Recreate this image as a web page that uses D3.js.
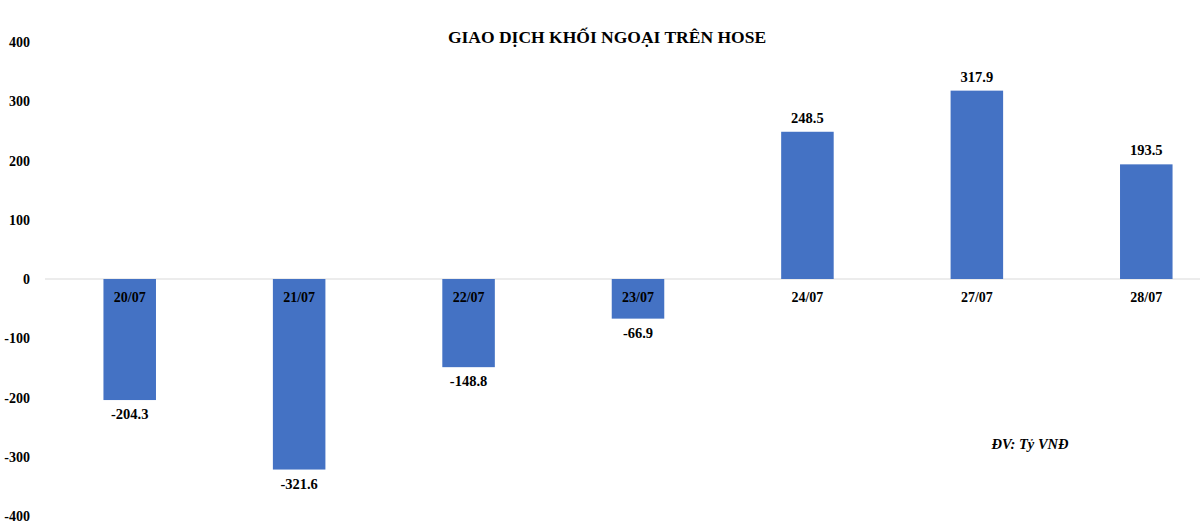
<!DOCTYPE html>
<html><head><meta charset="utf-8">
<script src="https://cdn.jsdelivr.net/npm/d3@7"></script>
<style>body{margin:0;background:#fff}text{font-family:"Liberation Serif","Times New Roman",serif;font-weight:bold}</style>
</head><body><svg id="c" width="1200" height="528"></svg>
<script>
const categories = ["20/07","21/07","22/07","23/07","24/07","27/07","28/07"];
const values = [-204.3,-321.6,-148.8,-66.9,248.5,317.9,193.5];
const yTicks = [400,300,200,100,0,-100,-200,-300,-400];

const svg = d3.select("#c");
const x = d3.scaleBand().domain(categories).range([45, 1231]).paddingInner(0.69).paddingOuter(0.345);
const y = d3.scaleLinear().domain([-400, 400]).range([516, 42]);

svg.append("line").attr("x1", 45).attr("x2", 1200).attr("y1", y(0)).attr("y2", y(0))
  .attr("stroke", "#d9d9d9").attr("stroke-width", 1);

svg.selectAll(".yt").data(yTicks).enter().append("text")
  .attr("x", 30).attr("y", d => y(d) + 5).attr("text-anchor", "end")
  .attr("font-size", 14).text(d => d);

svg.selectAll(".bar").data(values).enter().append("rect")
  .attr("x", (d, i) => x(categories[i])).attr("width", x.bandwidth())
  .attr("y", d => y(Math.max(0, d))).attr("height", d => Math.abs(y(d) - y(0)))
  .attr("fill", "#4472c4");

svg.selectAll(".cat").data(categories).enter().append("text")
  .attr("x", d => x(d) + x.bandwidth() / 2).attr("y", y(0) + 23)
  .attr("text-anchor", "middle").attr("font-size", 14).text(d => d);

svg.selectAll(".val").data(values).enter().append("text")
  .attr("x", (d, i) => x(categories[i]) + x.bandwidth() / 2)
  .attr("y", d => d < 0 ? y(d) + 19 : y(d) - 9)
  .attr("text-anchor", "middle").attr("font-size", 14.5).text(d => d.toFixed(1));

svg.append("text").attr("x", 607).attr("y", 43).attr("text-anchor", "middle")
  .attr("font-size", 17.5).text("GIAO DỊCH KHỐI NGOẠI TRÊN HOSE");

svg.append("text").attr("x", 1030).attr("y", 449).attr("text-anchor", "middle")
  .attr("font-size", 14.5).attr("font-style", "italic").text("ĐV: Tỷ VNĐ");
</script></body></html>
